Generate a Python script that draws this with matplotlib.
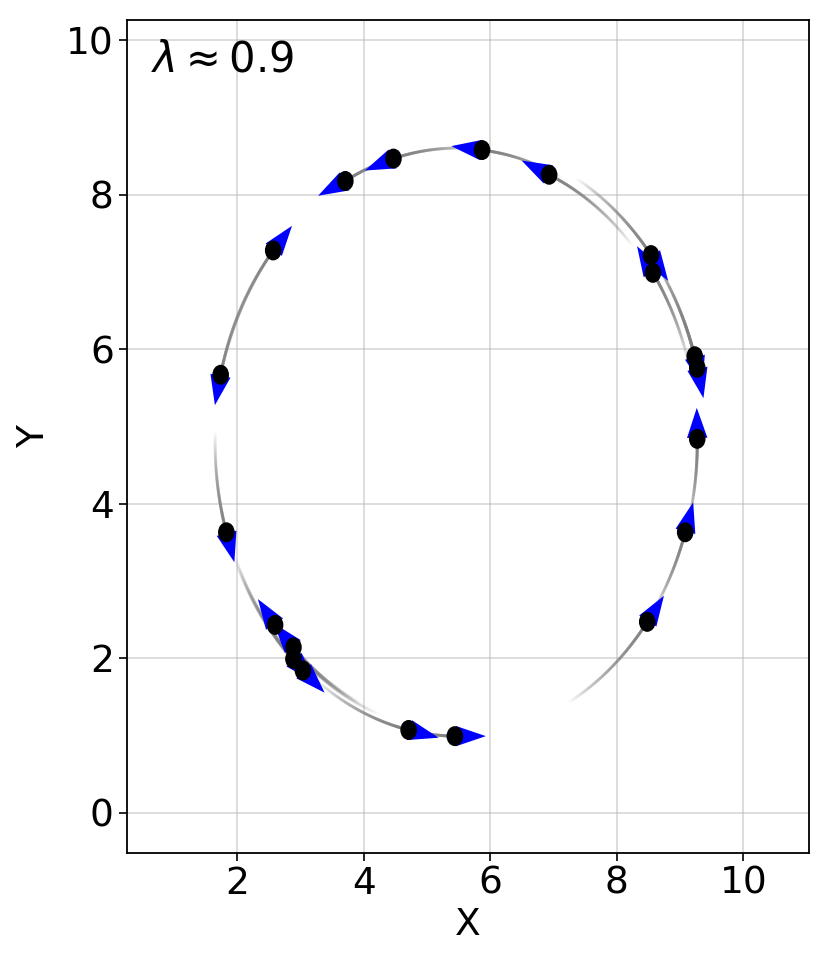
import matplotlib
matplotlib.use("Agg")
import matplotlib.pyplot as plt
import numpy as np
from matplotlib.collections import LineCollection
from matplotlib.patches import Circle

# particle positions
px = [5.87, 4.47, 3.71, 2.57, 1.74, 1.83, 2.60, 2.89, 2.89, 3.04,
      4.71, 5.44, 8.48, 9.08, 9.27, 9.27, 9.23, 8.57, 8.54, 6.93]
py = [8.58, 8.47, 8.18, 7.28, 5.67, 3.63, 2.43, 2.14, 1.99, 1.84,
      1.07, 0.99, 2.47, 3.63, 4.84, 5.76, 5.91, 6.99, 7.22, 8.26]
# heading of each particle (degrees, data space)
heading = [174, 199, 204, 47, 257, 288, 129, 135, 317, 320,
           348, 0, 52, 72, 91, 284, 287, 126, 309, 157]
# +1 counter-clockwise, -1 clockwise around the ring
spin = [1, 1, 1, -1, 1, 1, -1, -1, 1, 1,
        1, 1, 1, 1, 1, -1, -1, 1, -1, 1]
# length of the fading trail behind each particle (degrees of arc)
trail = [20, 20, 14, 25, 25, 20, 32, 20, 25, 27,
         25, 15, 25, 18, 18, 22, 22, 20, 23, 25]

center = (5.48, 4.78)
order_param = 0.9

fig = plt.figure(figsize=(8.3, 9.69), dpi=100)
ax = fig.add_axes([0.153, 0.120, 0.822, 0.859])

# trails
for x0, y0, s, t in zip(px, py, spin, trail):
    r = np.hypot(x0 - center[0], y0 - center[1])
    phi0 = np.arctan2(y0 - center[1], x0 - center[0])
    phis = phi0 - s * np.radians(np.linspace(0, t, 60))
    tx = center[0] + r * np.cos(phis)
    ty = center[1] + r * np.sin(phis)
    pts = np.column_stack([tx, ty]).reshape(-1, 1, 2)
    segs = np.concatenate([pts[:-1], pts[1:]], axis=1)
    cols = np.full((len(segs), 4), 0.5)
    cols[:, 3] = np.linspace(0.85, 0.0, len(segs))
    ax.add_collection(LineCollection(segs, colors=cols, linewidths=2.2,
                                     capstyle="round", zorder=2))

# velocity arrows (heads only)
L = 31
u = L * np.cos(np.radians(heading))
v = L * np.sin(np.radians(heading))
ax.quiver(px, py, u, v, angles="xy", units="dots", scale_units="dots", scale=1,
          width=1.2, headwidth=17, headlength=25, headaxislength=25,
          color="blue", zorder=3)

# particles
for x0, y0 in zip(px, py):
    ax.add_patch(Circle((x0, y0), 0.12, color="black", zorder=4))

ax.set_xlim(0.26, 11.04)
ax.set_ylim(-0.52, 10.26)
ax.set_xticks([2, 4, 6, 8, 10])
ax.set_yticks([0, 2, 4, 6, 8, 10])
ax.grid(True, color="#b0b0b0", alpha=0.5, linewidth=1.2)
ax.set_axisbelow(True)
ax.tick_params(labelsize=27, length=6, width=1.2)
for sp in ax.spines.values():
    sp.set_linewidth(1.3)
ax.set_xlabel("X", fontsize=27, labelpad=4)
ax.set_ylabel("Y", fontsize=27, labelpad=10)

ax.text(0.035, 0.978, r"$\lambda \approx %.1f$" % order_param, transform=ax.transAxes,
        fontsize=30, va="top", ha="left")

fig.savefig("out.png", dpi=100)
